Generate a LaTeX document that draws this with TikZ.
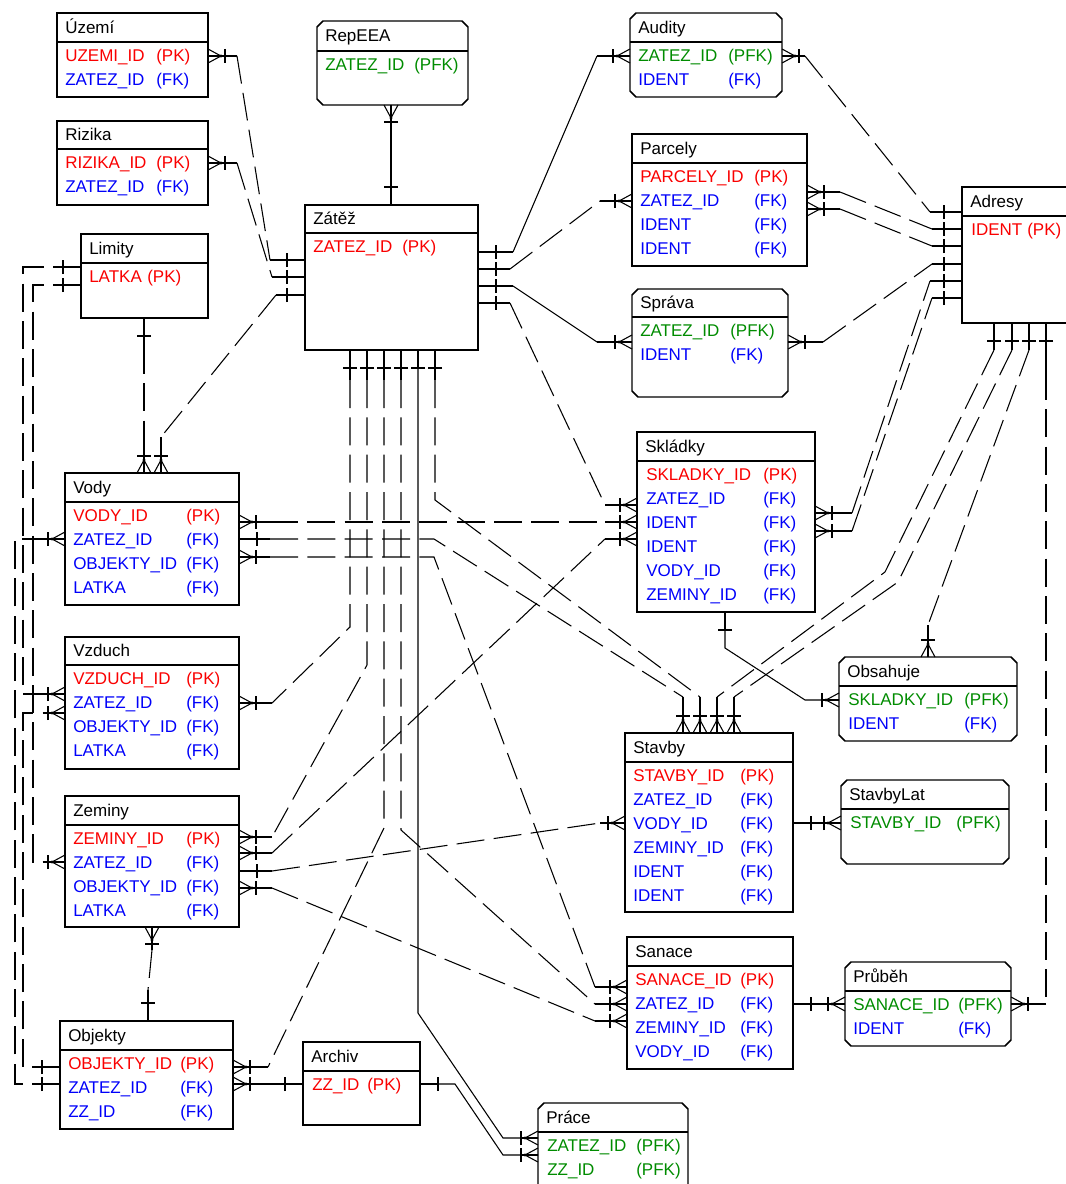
\documentclass[tikz,border=0pt]{standalone}
\usepackage{fontspec}
\setmainfont{Liberation Sans}
\definecolor{pkc}{RGB}{250,0,0}
\definecolor{fkc}{RGB}{0,0,250}
\definecolor{pfkc}{RGB}{0,140,0}
\tikzset{
  mk/.style={line width=0.8pt},
  link/.style={line width=0.8pt},
  rel/.style={line width=0.8pt, dash pattern=on 21pt off 7pt},
  ebox/.style={draw, line width=1.1pt, inner sep=0pt, outer sep=0pt},
  enode/.style={draw=none, inner sep=0pt, outer sep=0pt},
  eline/.style={line width=1.1pt},
  ttl/.style={font=\fontsize{12.75}{15}\selectfont, inner sep=0pt, text=black, yshift=-1.5pt},
  fldst/.style={font=\fontsize{12.75}{15}\selectfont, inner sep=0pt, yshift=-1.5pt},
  toR/.style={rotate=0}, toL/.style={rotate=180}, toU/.style={rotate=90}, toD/.style={rotate=-90},
  crow/.pic={\draw[mk] (0,-7) -- (13,0) -- (0,7); \draw[mk] (0,0) -- (17,0); \draw[mk] (17,-7) -- (17,7); \fill (13,0) circle (1.6);},
  onebar/.pic={\draw[mk] (0,0) -- (18,0); \draw[mk] (18,-7) -- (18,7);},
}
% name x1 y1 x2 y2 ydiv title
\newcommand\erent[7]{%
  \node[ebox, anchor=north west, minimum width={(#4-#2)*0.75pt}, minimum height={(#5-#3)*0.75pt}] (#1) at (#2,#3) {};
  \draw[eline] (#2,#6) -- (#4,#6);
  \node[ttl, anchor=mid west] (#1-title) at ({#2+8},{(#3+#6)/2}) {#7};}
\newcommand\ercham[7]{%
  \node[enode, anchor=north west, minimum width={(#4-#2)*0.75pt}, minimum height={(#5-#3)*0.75pt}] (#1) at (#2,#3) {};
  \draw[eline] ({#2+6},#3) -- ({#4-6},#3) -- (#4,{#3+6}) -- (#4,{#5-6}) -- ({#4-6},#5) -- ({#2+6},#5) -- (#2,{#5-6}) -- (#2,{#3+6}) -- cycle;
  \draw[eline] (#2,#6) -- (#4,#6);
  \node[ttl, anchor=mid west] (#1-title) at ({#2+8},{(#3+#6)/2}) {#7};}
\newcommand\fld[5]{\node[fldst, text=#4, anchor=mid west] (#1) at (#2,#3) {#5};}
% style P1 P2 mids P3 P4
\newcommand\cnx[6]{\draw[link] #2 -- #3; \draw[#1] #3 #4 -- #5; \draw[link] #5 -- #6;}
\newcommand\mkcrow[2]{\pic[#1] at #2 {crow};}
\newcommand\mkbar[2]{\pic[#1] at #2 {onebar};}
\begin{document}
\begin{tikzpicture}[x=0.75pt,y=-0.75pt]
\useasboundingbox (0,0) rectangle (1066,1184);
\fill[white] (0,0) rectangle (1066,1184);
\clip (0,0) rectangle (1066,1184);

% ---------------- entities ----------------
\erent{uzemi}{57}{13}{208}{97}{42}{Území}
\fld{uz1}{65}{56}{pkc}{UZEMI\_ID}\fld{uz1k}{156}{56}{pkc}{(PK)}
\fld{uz2}{65}{80}{fkc}{ZATEZ\_ID}\fld{uz2k}{156}{80}{fkc}{(FK)}

\erent{rizika}{57}{121}{208}{205}{149}{Rizika}
\fld{ri1}{65}{163}{pkc}{RIZIKA\_ID}\fld{ri1k}{156}{163}{pkc}{(PK)}
\fld{ri2}{65}{187}{fkc}{ZATEZ\_ID}\fld{ri2k}{156}{187}{fkc}{(FK)}

\erent{limity}{81}{234}{208}{318}{263}{Limity}
\fld{li1}{89}{277}{pkc}{LATKA}\fld{li1k}{147}{277}{pkc}{(PK)}

\ercham{repeea}{317}{21}{468}{105}{51}{RepEEA}
\fld{re1}{325}{65}{pfkc}{ZATEZ\_ID}\fld{re1k}{414}{65}{pfkc}{(PFK)}

\erent{zatez}{305}{205}{478}{350}{233}{Zátěž}
\fld{za1}{313}{247}{pkc}{ZATEZ\_ID}\fld{za1k}{402}{247}{pkc}{(PK)}

\ercham{audity}{630}{13}{782}{97}{42}{Audity}
\fld{au1}{638}{56}{pfkc}{ZATEZ\_ID}\fld{au1k}{728}{56}{pfkc}{(PFK)}
\fld{au2}{638}{80}{fkc}{IDENT}\fld{au2k}{728}{80}{fkc}{(FK)}

\erent{parcely}{632}{134}{807}{266}{163}{Parcely}
\fld{pa1}{640}{177}{pkc}{PARCELY\_ID}\fld{pa1k}{754}{177}{pkc}{(PK)}
\fld{pa2}{640}{201}{fkc}{ZATEZ\_ID}\fld{pa2k}{754}{201}{fkc}{(FK)}
\fld{pa3}{640}{225}{fkc}{IDENT}\fld{pa3k}{754}{225}{fkc}{(FK)}
\fld{pa4}{640}{249}{fkc}{IDENT}\fld{pa4k}{754}{249}{fkc}{(FK)}

\ercham{sprava}{632}{289}{788}{397}{317}{Správa}
\fld{sp1}{640}{331}{pfkc}{ZATEZ\_ID}\fld{sp1k}{730}{331}{pfkc}{(PFK)}
\fld{sp2}{640}{355}{fkc}{IDENT}\fld{sp2k}{730}{355}{fkc}{(FK)}

\erent{adresy}{962}{187}{1085}{323}{216}{Adresy}
\fld{ad1}{971}{230}{pkc}{IDENT}\fld{ad1k}{1027}{230}{pkc}{(PK)}

\erent{skladky}{637}{432}{815}{612}{461}{Skládky}
\fld{sk1}{646}{475}{pkc}{SKLADKY\_ID}\fld{sk1k}{763}{475}{pkc}{(PK)}
\fld{sk2}{646}{499}{fkc}{ZATEZ\_ID}\fld{sk2k}{763}{499}{fkc}{(FK)}
\fld{sk3}{646}{523}{fkc}{IDENT}\fld{sk3k}{763}{523}{fkc}{(FK)}
\fld{sk4}{646}{547}{fkc}{IDENT}\fld{sk4k}{763}{547}{fkc}{(FK)}
\fld{sk5}{646}{571}{fkc}{VODY\_ID}\fld{sk5k}{763}{571}{fkc}{(FK)}
\fld{sk6}{646}{595}{fkc}{ZEMINY\_ID}\fld{sk6k}{763}{595}{fkc}{(FK)}

\erent{vody}{65}{473}{239}{605}{502}{Vody}
\fld{vo1}{73}{516}{pkc}{VODY\_ID}\fld{vo1k}{186}{516}{pkc}{(PK)}
\fld{vo2}{73}{540}{fkc}{ZATEZ\_ID}\fld{vo2k}{186}{540}{fkc}{(FK)}
\fld{vo3}{73}{564}{fkc}{OBJEKTY\_ID}\fld{vo3k}{186}{564}{fkc}{(FK)}
\fld{vo4}{73}{588}{fkc}{LATKA}\fld{vo4k}{186}{588}{fkc}{(FK)}

\erent{vzduch}{65}{637}{239}{769}{665}{Vzduch}
\fld{vz1}{73}{679}{pkc}{VZDUCH\_ID}\fld{vz1k}{186}{679}{pkc}{(PK)}
\fld{vz2}{73}{703}{fkc}{ZATEZ\_ID}\fld{vz2k}{186}{703}{fkc}{(FK)}
\fld{vz3}{73}{727}{fkc}{OBJEKTY\_ID}\fld{vz3k}{186}{727}{fkc}{(FK)}
\fld{vz4}{73}{751}{fkc}{LATKA}\fld{vz4k}{186}{751}{fkc}{(FK)}

\erent{zeminy}{65}{796}{239}{927}{825}{Zeminy}
\fld{ze1}{73}{839}{pkc}{ZEMINY\_ID}\fld{ze1k}{186}{839}{pkc}{(PK)}
\fld{ze2}{73}{863}{fkc}{ZATEZ\_ID}\fld{ze2k}{186}{863}{fkc}{(FK)}
\fld{ze3}{73}{887}{fkc}{OBJEKTY\_ID}\fld{ze3k}{186}{887}{fkc}{(FK)}
\fld{ze4}{73}{911}{fkc}{LATKA}\fld{ze4k}{186}{911}{fkc}{(FK)}

\erent{objekty}{60}{1021}{233}{1129}{1050}{Objekty}
\fld{ob1}{68}{1064}{pkc}{OBJEKTY\_ID}\fld{ob1k}{180}{1064}{pkc}{(PK)}
\fld{ob2}{68}{1088}{fkc}{ZATEZ\_ID}\fld{ob2k}{180}{1088}{fkc}{(FK)}
\fld{ob3}{68}{1112}{fkc}{ZZ\_ID}\fld{ob3k}{180}{1112}{fkc}{(FK)}

\erent{archiv}{303}{1042}{420}{1125}{1071}{Archiv}
\fld{ar1}{312}{1085}{pkc}{ZZ\_ID}\fld{ar1k}{367}{1085}{pkc}{(PK)}

\ercham{prace}{538}{1103}{688}{1200}{1132}{Práce}
\fld{pr1}{547}{1146}{pfkc}{ZATEZ\_ID}\fld{pr1k}{636}{1146}{pfkc}{(PFK)}
\fld{pr2}{547}{1170}{pfkc}{ZZ\_ID}\fld{pr2k}{636}{1170}{pfkc}{(PFK)}

\erent{stavby}{625}{733}{793}{912}{762}{Stavby}
\fld{st1}{633}{776}{pkc}{STAVBY\_ID}\fld{st1k}{740}{776}{pkc}{(PK)}
\fld{st2}{633}{800}{fkc}{ZATEZ\_ID}\fld{st2k}{740}{800}{fkc}{(FK)}
\fld{st3}{633}{824}{fkc}{VODY\_ID}\fld{st3k}{740}{824}{fkc}{(FK)}
\fld{st4}{633}{848}{fkc}{ZEMINY\_ID}\fld{st4k}{740}{848}{fkc}{(FK)}
\fld{st5}{633}{872}{fkc}{IDENT}\fld{st5k}{740}{872}{fkc}{(FK)}
\fld{st6}{633}{896}{fkc}{IDENT}\fld{st6k}{740}{896}{fkc}{(FK)}

\ercham{stavbylat}{841}{780}{1009}{864}{809}{StavbyLat}
\fld{sl1}{850}{823}{pfkc}{STAVBY\_ID}\fld{sl1k}{956}{823}{pfkc}{(PFK)}

\ercham{obsahuje}{839}{657}{1017}{741}{686}{Obsahuje}
\fld{os1}{848}{700}{pfkc}{SKLADKY\_ID}\fld{os1k}{964}{700}{pfkc}{(PFK)}
\fld{os2}{848}{724}{fkc}{IDENT}\fld{os2k}{964}{724}{fkc}{(FK)}

\erent{sanace}{627}{937}{793}{1069}{966}{Sanace}
\fld{sa1}{635}{980}{pkc}{SANACE\_ID}\fld{sa1k}{740}{980}{pkc}{(PK)}
\fld{sa2}{635}{1004}{fkc}{ZATEZ\_ID}\fld{sa2k}{740}{1004}{fkc}{(FK)}
\fld{sa3}{635}{1028}{fkc}{ZEMINY\_ID}\fld{sa3k}{740}{1028}{fkc}{(FK)}
\fld{sa4}{635}{1052}{fkc}{VODY\_ID}\fld{sa4k}{740}{1052}{fkc}{(FK)}

\ercham{prubeh}{845}{962}{1011}{1046}{991}{Průběh}
\fld{pb1}{853}{1005}{pfkc}{SANACE\_ID}\fld{pb1k}{958}{1005}{pfkc}{(PFK)}
\fld{pb2}{853}{1029}{fkc}{IDENT}\fld{pb2k}{958}{1029}{fkc}{(FK)}

% ---------------- connectors ----------------
% Zatez left
\cnx{rel}{(uzemi.east |- 0,56)}{(237,56)}{}{(270,260)}{(zatez.west |- 0,260)}
\mkcrow{toR}{(uzemi.east |- 0,56)}\mkbar{toL}{(zatez.west |- 0,260)}
\cnx{rel}{(rizika.east |- 0,163)}{(237,163)}{}{(272,277)}{(zatez.west |- 0,277)}
\mkcrow{toR}{(rizika.east |- 0,163)}\mkbar{toL}{(zatez.west |- 0,277)}
\cnx{rel}{(zatez.west |- 0,295)}{(276,295)}{}{(161,437)}{(vody.north -| 161,0)}
\mkbar{toL}{(zatez.west |- 0,295)}\mkcrow{toU}{(vody.north -| 161,0)}
\cnx{rel}{(limity.south -| 144,0)}{(144,346)}{}{(144,445)}{(vody.north -| 144,0)}
\mkbar{toD}{(limity.south -| 144,0)}\mkcrow{toU}{(vody.north -| 144,0)}
% Zatez top
\draw[link] (zatez.north -| 391,0) -- (repeea.south -| 391,0);
\mkbar{toU}{(zatez.north -| 391,0)}\mkcrow{toD}{(repeea.south -| 391,0)}
% Zatez right
\cnx{link}{(zatez.east |- 0,252)}{(513,252)}{}{(597,56)}{(audity.west |- 0,56)}
\mkbar{toR}{(zatez.east |- 0,252)}\mkcrow{toL}{(audity.west |- 0,56)}
\cnx{rel}{(zatez.east |- 0,269)}{(510,269)}{}{(600,201)}{(parcely.west |- 0,201)}
\mkbar{toR}{(zatez.east |- 0,269)}\mkcrow{toL}{(parcely.west |- 0,201)}
\cnx{link}{(zatez.east |- 0,286)}{(513,286)}{}{(597,342)}{(sprava.west |- 0,342)}
\mkbar{toR}{(zatez.east |- 0,286)}\mkcrow{toL}{(sprava.west |- 0,342)}
\cnx{rel}{(zatez.east |- 0,303)}{(510,303)}{}{(605,505)}{(skladky.west |- 0,505)}
\mkbar{toR}{(zatez.east |- 0,303)}\mkcrow{toL}{(skladky.west |- 0,505)}
% Zatez bottom
\cnx{rel}{(zatez.south -| 350,0)}{(350,380)}{-- (350,627)}{(272,703)}{(vzduch.east |- 0,703)}
\mkbar{toD}{(zatez.south -| 350,0)}\mkcrow{toR}{(vzduch.east |- 0,703)}
\cnx{rel}{(zatez.south -| 367,0)}{(367,380)}{-- (367,665)}{(272,837)}{(zeminy.east |- 0,837)}
\mkbar{toD}{(zatez.south -| 367,0)}\mkcrow{toR}{(zeminy.east |- 0,837)}
\cnx{rel}{(zatez.south -| 384,0)}{(384,380)}{-- (384,828)}{(268,1067)}{(objekty.east |- 0,1067)}
\mkbar{toD}{(zatez.south -| 384,0)}\mkcrow{toR}{(objekty.east |- 0,1067)}
\cnx{rel}{(zatez.south -| 401,0)}{(401,380)}{-- (401,830)}{(595,1004)}{(sanace.west |- 0,1004)}
\mkbar{toD}{(zatez.south -| 401,0)}\mkcrow{toL}{(sanace.west |- 0,1004)}
\draw[link] (zatez.south -| 418,0) -- (418,1013) -- (503,1138) -- (prace.west |- 0,1138);
\mkbar{toD}{(zatez.south -| 418,0)}\mkcrow{toL}{(prace.west |- 0,1138)}
\cnx{rel}{(zatez.south -| 435,0)}{(435,380)}{-- (435,500)}{(700,697)}{(stavby.north -| 700,0)}
\mkbar{toD}{(zatez.south -| 435,0)}\mkcrow{toU}{(stavby.north -| 700,0)}
% Vody right
\cnx{rel}{(vody.east |- 0,522)}{(270,522)}{}{(605,522)}{(skladky.west |- 0,522)}
\mkcrow{toR}{(vody.east |- 0,522)}\mkcrow{toL}{(skladky.west |- 0,522)}
\cnx{rel}{(vody.east |- 0,539)}{(270,539)}{-- (434,539)}{(683,697)}{(stavby.north -| 683,0)}
\mkbar{toR}{(vody.east |- 0,539)}\mkcrow{toU}{(stavby.north -| 683,0)}
\cnx{rel}{(vody.east |- 0,557)}{(270,557)}{-- (434,557)}{(595,987)}{(sanace.west |- 0,987)}
\mkcrow{toR}{(vody.east |- 0,557)}\mkcrow{toL}{(sanace.west |- 0,987)}
% Zeminy right
\cnx{rel}{(zeminy.east |- 0,853)}{(272,853)}{}{(605,539)}{(skladky.west |- 0,539)}
\mkcrow{toR}{(zeminy.east |- 0,853)}\mkcrow{toL}{(skladky.west |- 0,539)}
\cnx{rel}{(zeminy.east |- 0,871)}{(272,871)}{}{(600,823)}{(stavby.west |- 0,823)}
\mkbar{toR}{(zeminy.east |- 0,871)}\mkcrow{toL}{(stavby.west |- 0,823)}
\cnx{rel}{(zeminy.east |- 0,888)}{(272,888)}{}{(595,1021)}{(sanace.west |- 0,1021)}
\mkcrow{toR}{(zeminy.east |- 0,888)}\mkcrow{toL}{(sanace.west |- 0,1021)}
% Zeminy - Objekty
\cnx{rel}{(zeminy.south -| 152,0)}{(152,950)}{}{(148,990)}{(objekty.north -| 148,0)}
\mkcrow{toD}{(zeminy.south -| 152,0)}\mkbar{toU}{(objekty.north -| 148,0)}
% Objekty - Archiv - Prace
\cnx{rel}{(objekty.east |- 0,1084)}{(262,1084)}{}{(272,1084)}{(archiv.west |- 0,1084)}
\mkcrow{toR}{(objekty.east |- 0,1084)}\mkbar{toL}{(archiv.west |- 0,1084)}
\draw[link] (archiv.east |- 0,1084) -- (455,1084) -- (503,1155) -- (prace.west |- 0,1155);
\mkbar{toR}{(archiv.east |- 0,1084)}\mkcrow{toL}{(prace.west |- 0,1155)}
% left long lines
\draw[rel] (limity.west |- 0,267) -- (23,267) -- (23,694) -- (vzduch.west |- 0,694);
\mkbar{toL}{(limity.west |- 0,267)}\mkcrow{toL}{(vzduch.west |- 0,694)}
\draw[rel] (limity.west |- 0,285) -- (33,285) -- (33,862) -- (zeminy.west |- 0,862);
\mkbar{toL}{(limity.west |- 0,285)}\mkcrow{toL}{(zeminy.west |- 0,862)}
\draw[rel] (objekty.west |- 0,1067) -- (23,1067) -- (23,713) -- (vzduch.west |- 0,713);
\mkbar{toL}{(objekty.west |- 0,1067)}\mkcrow{toL}{(vzduch.west |- 0,713)}
\draw[rel] (objekty.west |- 0,1084) -- (15,1084) -- (15,539) -- (vody.west |- 0,539);
\mkbar{toL}{(objekty.west |- 0,1084)}\mkcrow{toL}{(vody.west |- 0,539)}
% Adresy left
\cnx{rel}{(audity.east |- 0,56)}{(805,56)}{}{(930,212)}{(adresy.west |- 0,212)}
\mkcrow{toR}{(audity.east |- 0,56)}\mkbar{toL}{(adresy.west |- 0,212)}
\cnx{rel}{(parcely.east |- 0,192)}{(840,192)}{}{(932,229)}{(adresy.west |- 0,229)}
\mkcrow{toR}{(parcely.east |- 0,192)}\mkbar{toL}{(adresy.west |- 0,229)}
\cnx{rel}{(parcely.east |- 0,209)}{(840,209)}{}{(932,246)}{(adresy.west |- 0,246)}
\mkcrow{toR}{(parcely.east |- 0,209)}\mkbar{toL}{(adresy.west |- 0,246)}
\cnx{rel}{(sprava.east |- 0,342)}{(823,342)}{}{(932,264)}{(adresy.west |- 0,264)}
\mkcrow{toR}{(sprava.east |- 0,342)}\mkbar{toL}{(adresy.west |- 0,264)}
\cnx{rel}{(skladky.east |- 0,513)}{(852,513)}{}{(930,281)}{(adresy.west |- 0,281)}
\mkcrow{toR}{(skladky.east |- 0,513)}\mkbar{toL}{(adresy.west |- 0,281)}
\cnx{rel}{(skladky.east |- 0,531)}{(852,531)}{}{(932,298)}{(adresy.west |- 0,298)}
\mkcrow{toR}{(skladky.east |- 0,531)}\mkbar{toL}{(adresy.west |- 0,298)}
% Adresy bottom
\cnx{rel}{(adresy.south -| 994,0)}{(994,350)}{-- (885,572)}{(717,697)}{(stavby.north -| 717,0)}
\mkbar{toD}{(adresy.south -| 994,0)}\mkcrow{toU}{(stavby.north -| 717,0)}
\cnx{rel}{(adresy.south -| 1012,0)}{(1012,350)}{-- (898,582)}{(734,697)}{(stavby.north -| 734,0)}
\mkbar{toD}{(adresy.south -| 1012,0)}\mkcrow{toU}{(stavby.north -| 734,0)}
\cnx{rel}{(adresy.south -| 1029,0)}{(1029,350)}{}{(928,625)}{(obsahuje.north -| 928,0)}
\mkbar{toD}{(adresy.south -| 1029,0)}\mkcrow{toU}{(obsahuje.north -| 928,0)}
\cnx{rel}{(adresy.south -| 1046,0)}{(1046,372)}{}{(1046,1004)}{(prubeh.east |- 0,1004)}
\mkbar{toD}{(adresy.south -| 1046,0)}\mkcrow{toR}{(prubeh.east |- 0,1004)}
% identifying short ones
\draw[link] (skladky.south -| 725,0) -- (725,648) -- (805,700) -- (obsahuje.west |- 0,700);
\mkbar{toD}{(skladky.south -| 725,0)}\mkcrow{toL}{(obsahuje.west |- 0,700)}
\draw[link] (stavby.east |- 0,823) -- (stavbylat.west |- 0,823);
\mkbar{toR}{(stavby.east |- 0,823)}\mkcrow{toL}{(stavbylat.west |- 0,823)}
\draw[link] (sanace.east |- 0,1004) -- (prubeh.west |- 0,1004);
\mkbar{toR}{(sanace.east |- 0,1004)}\mkcrow{toL}{(prubeh.west |- 0,1004)}
\end{tikzpicture}
\end{document}
